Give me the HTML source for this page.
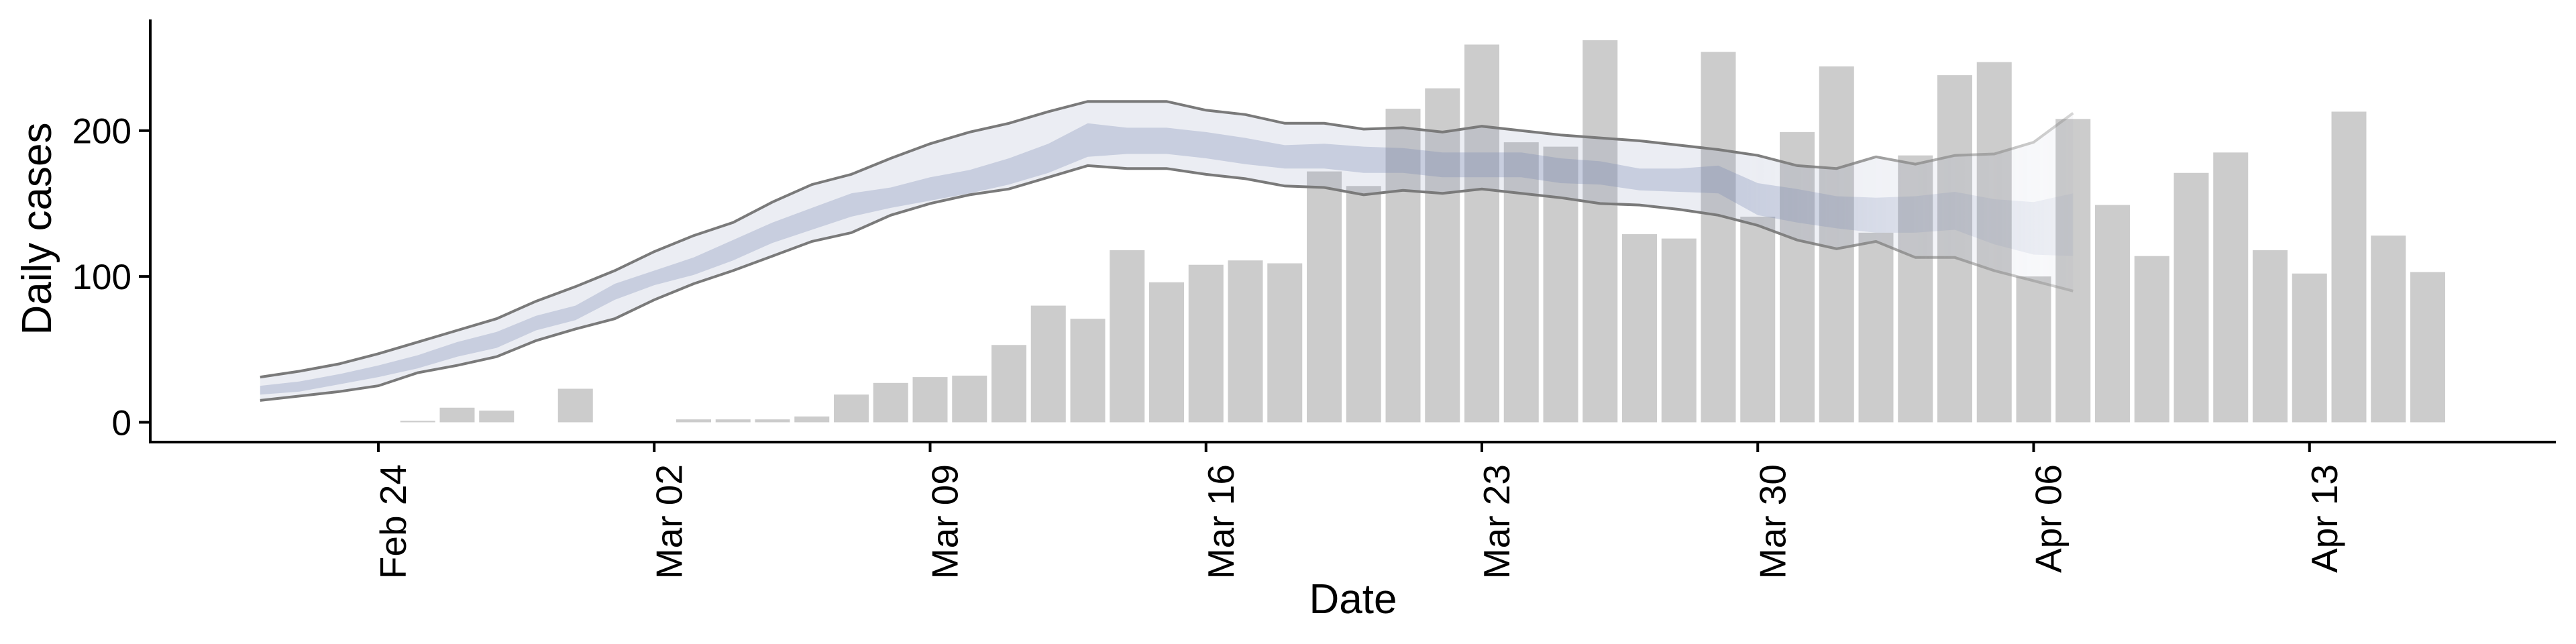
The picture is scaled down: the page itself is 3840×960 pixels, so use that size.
<!DOCTYPE html>
<html><head><meta charset="utf-8"><style>
html,body{margin:0;padding:0;background:#fff;}
svg{display:block;font-family:"Liberation Sans",Arial,sans-serif;}
</style></head><body>
<svg id="chart" width="3840" height="960" viewBox="0 0 3840 960" xmlns="http://www.w3.org/2000/svg">
<defs>
<linearGradient id="fade" gradientUnits="userSpaceOnUse" x1="2600" y1="0" x2="3100" y2="0">
<stop offset="0" stop-color="#fff" stop-opacity="1"/>
<stop offset="1" stop-color="#fff" stop-opacity="0.3"/>
</linearGradient>
<mask id="fadeMask" maskUnits="userSpaceOnUse" x="0" y="0" width="3840" height="960">
<rect x="0" y="0" width="2600" height="960" fill="#fff"/>
<rect x="2600" y="0" width="1240" height="960" fill="url(#fade)"/>
</mask>
</defs>
<g id="bars"></g>
<g id="bands" mask="url(#fadeMask)"></g>
<g id="axes"></g>
</svg>
<script>
// ---- data ----
const barStart = "2020-02-25";
const barValues = [1,10,8,0,23,0,0,2,2,2,4,19,27,31,32,53,80,71,118,96,108,111,109,172,162,215,229,259,192,189,262,129,126,254,141,199,244,130,183,238,247,100,208,149,114,171,185,118,102,213,128,103];
const bandStart = "2020-02-21";
const hi90 = [31,35,40,47,55,63,71,83,93,104,117,128,137,151,163,170,181,191,199,205,213,220,220,220,214,211,205,205,201,202,199,203,200,197,195,193,190,187,183,176,174,182,177,183,184,192,212];
const hi50 = [25,28,33,39,46,55,62,73,80,95,104,113,125,137,147,157,161,168,173,181,191,205,202,202,199,195,190,191,189,188,185,185,185,181,179,174,174,176,164,160,155,154,155,158,153,151,157];
const lo50 = [19,21,26,31,37,45,51,63,70,84,94,101,111,123,132,141,147,152,157,163,171,182,184,184,181,177,174,174,171,171,168,168,168,164,163,159,158,157,142,137,133,130,130,132,122,115,114];
const lo90 = [15,18,21,25,34,39,45,56,64,71,84,95,104,114,124,130,142,150,156,160,168,176,174,174,170,167,162,161,156,159,157,160,157,154,150,149,146,142,135,125,119,124,113,113,104,97,90];
const xTickLabels = ["Feb 24","Mar 02","Mar 09","Mar 16","Mar 23","Mar 30","Apr 06","Apr 13"];
const xTickDates = ["2020-02-24","2020-03-02","2020-03-09","2020-03-16","2020-03-23","2020-03-30","2020-04-06","2020-04-13"];
const yTicks = [0,100,200];

// ---- scales ----
const NS = "http://www.w3.org/2000/svg";
const DAY = 86400000;
const origin = Date.UTC(2020,1,24);
function dayOf(s){const p=s.split("-");return (Date.UTC(+p[0],+p[1]-1,+p[2])-origin)/DAY;}
function x(d){return 564 + d*58.75;}
function y(v){return 629.5 - v*2.174;}
function mk(tag,attrs,parent){const e=document.createElementNS(NS,tag);for(const k in attrs)e.setAttribute(k,attrs[k]);parent.appendChild(e);return e;}

// bars
const gb = document.getElementById("bars");
const b0 = dayOf(barStart);
barValues.forEach((v,i)=>{
  if(v<=0) return;
  const cx = x(b0+i);
  const r = mk("rect",{x:cx-26,y:y(v),width:52,height:y(0)-y(v),fill:"#cccccc"},gb);
  
  
});

// bands
const gd = document.getElementById("bands");
const s0 = dayOf(bandStart);
function area(up,lo){
  let d="";
  up.forEach((v,i)=>{d+=(i?"L":"M")+x(s0+i).toFixed(1)+","+y(v).toFixed(1);});
  for(let i=lo.length-1;i>=0;i--) d+="L"+x(s0+i).toFixed(1)+","+y(lo[i]).toFixed(1);
  return d+"Z";
}
function line(arr){let d="";arr.forEach((v,i)=>{d+=(i?"L":"M")+x(s0+i).toFixed(1)+","+y(v).toFixed(1);});return d;}
const a90 = mk("path",{d:area(hi90,lo90),fill:"rgba(120,135,175,0.15)"},gd);


const a50 = mk("path",{d:area(hi50,lo50),fill:"rgba(120,135,175,0.30)"},gd);


const lu = mk("path",{d:line(hi90),fill:"none",stroke:"#7a7a7a","stroke-width":4},gd);


const ll = mk("path",{d:line(lo90),fill:"none",stroke:"#7a7a7a","stroke-width":4},gd);



// axes
const ga = document.getElementById("axes");
const ya = mk("line",{x1:224,y1:29,x2:224,y2:661,stroke:"#000","stroke-width":4},ga);


const xa = mk("line",{x1:222,y1:659,x2:3810,y2:659,stroke:"#000","stroke-width":4},ga);


yTicks.forEach(v=>{
  const t = mk("line",{x1:207,y1:y(v),x2:224,y2:y(v),stroke:"#000","stroke-width":4},ga);
  
  
  const l = mk("text",{x:196,y:y(v)+19,"text-anchor":"end","font-size":53,fill:"#000"},ga);
  l.textContent = v;
  
  
});
xTickDates.forEach((s,i)=>{
  const px = x(dayOf(s));
  const t = mk("line",{x1:px,y1:659,x2:px,y2:674,stroke:"#000","stroke-width":4},ga);
  
  
  const l = mk("text",{x:px+41,y:692,"text-anchor":"end","font-size":55,fill:"#000",transform:"rotate(-90 "+(px+41)+" 692)"},ga);
  l.textContent = xTickLabels[i];
  
  
});
const yt = mk("text",{x:76,y:341,"text-anchor":"middle","font-size":62,fill:"#000",transform:"rotate(-90 76 341)"},ga);
yt.textContent = "Daily cases";


const xt = mk("text",{x:2017,y:914,"text-anchor":"middle","font-size":62,fill:"#000"},ga);
xt.textContent = "Date";


</script>
</body></html>
